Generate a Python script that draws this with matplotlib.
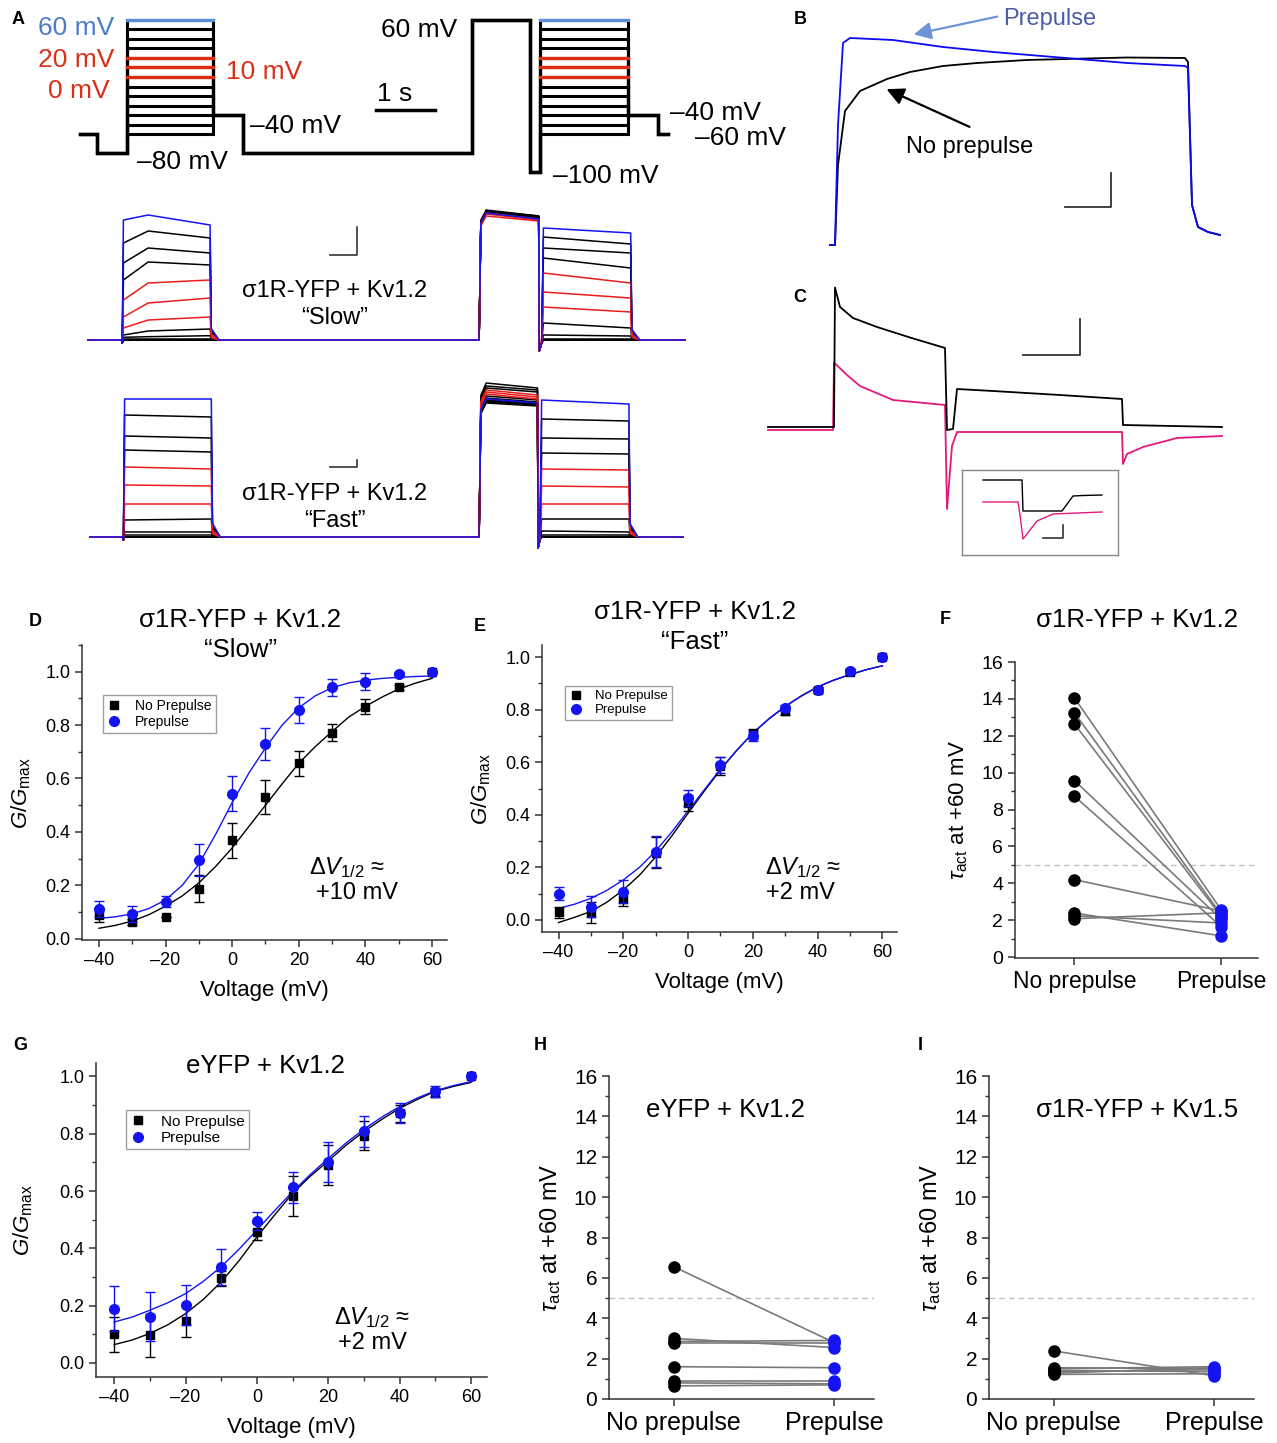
import matplotlib
matplotlib.use('Agg')
import matplotlib.pyplot as plt
from matplotlib.lines import Line2D
from matplotlib.ticker import MultipleLocator, FuncFormatter
import numpy as np

plt.rcParams['font.family'] = ['Liberation Sans', 'DejaVu Sans']
plt.rcParams['mathtext.fontset'] = 'custom'
plt.rcParams['mathtext.rm'] = 'Liberation Sans'
plt.rcParams['mathtext.it'] = 'Liberation Sans:italic'
plt.rcParams['mathtext.bf'] = 'Liberation Sans:bold'

# ---------------- data ----------------
# Panel A: voltage protocol (s, mV) and test steps
test_mV = [60, 50, 40, 30, 20, 10, 0, -10, -20, -30, -40, -50, -60]
proto_t = [0, 0.29, 0.80, 2.25, 2.76, 6.64, 7.63, 7.80, 9.29, 9.80, 9.97]

# Panel A currents (arbitrary units), one value per test step
slow1_fast = [12.0, 9.7, 7.7, 6.0, 4.0, 2.3, 1.2, 0.5, 0.27, 0.1, 0, 0, 0]
slow1_mid = [12.5, 10.9, 9.2, 7.8, 5.7, 3.7, 2.0, 0.9, 0.33, 0.1, 0, 0, 0]
slow1_end = [11.5, 10.2, 8.7, 7.5, 6.0, 4.2, 2.3, 1.1, 0.43, 0.1, 0, 0, 0]
slow_pp_start = [12.7, 12.9, 12.8, 12.8, 12.4, 12.6, 12.7, 13.0, 12.9, 12.8, 12.9, 12.8, 12.7]
slow_pp_end = [12.1, 12.4, 12.3, 12.2, 11.9, 12.0, 12.1, 12.4, 12.3, 12.2, 12.3, 12.2, 12.1]
slow2_start = [11.2, 10.3, 9.2, 8.2, 6.7, 4.8, 3.3, 1.7, 0.5, 0.1, 0, 0, 0]
slow2_end = [10.7, 9.6, 8.7, 7.2, 5.7, 4.2, 2.8, 1.2, 0.4, 0.1, 0, 0, 0]

fast1_start = [13.8, 12.2, 10.1, 8.7, 7.0, 5.2, 3.3, 1.7, 0.5, 0.2, 0, 0, 0]
fast1_end = [13.8, 12.0, 9.9, 8.5, 6.8, 5.1, 3.3, 1.8, 0.5, 0.2, 0, 0, 0]
fast_pp_start = [13.8, 15.4, 15.1, 14.9, 14.7, 14.5, 14.3, 14.1, 13.9, 13.7, 13.6, 13.5, 13.4]
fast_pp_end = [13.4, 14.9, 14.7, 14.5, 14.2, 14.0, 13.8, 13.7, 13.5, 13.4, 13.3, 13.2, 13.1]
fast2_start = [13.7, 11.8, 9.9, 8.4, 6.8, 5.1, 3.3, 1.8, 0.6, 0.2, 0, 0, 0]
fast2_end = [13.3, 11.6, 9.8, 8.3, 6.7, 5.0, 3.3, 1.8, 0.5, 0.2, 0, 0, 0]

# Panel B (ms, a.u.)
B_t_pre = [-5, 0, 3, 8, 15, 58, 108, 158, 225, 292, 350, 353, 357, 363, 373, 385]
B_pre = [0, 0, 12, 20.2, 20.7, 20.5, 19.8, 19.3, 18.75, 18.2, 17.9, 17.7, 4.0, 1.8, 1.3, 1.0]
B_t_no = [-5, 0, 3, 10, 25, 52, 75, 108, 142, 192, 292, 350, 353, 357, 363, 373, 385]
B_no = [0, 0, 8, 13.4, 15.4, 16.6, 17.3, 17.9, 18.2, 18.5, 18.75, 18.7, 18.3, 4.0, 1.8, 1.3, 1.0]

# Panel C (ms, a.u.)
C_t_k = [0, 66, 67, 72, 85, 109, 142, 177, 179, 185, 189, 225, 292, 354, 355, 454]
C_k = [0, 0, 13.95, 12.0, 10.9, 10.0, 8.95, 7.9, -0.3, -0.2, 3.8, 3.6, 3.2, 2.8, 0.2, 0]
C_t_m = [0, 65, 66, 79, 92, 125, 177, 179, 184, 189, 354, 355, 359, 375, 409, 454]
C_m = [-0.3, -0.3, 6.45, 5.2, 4.1, 2.7, 2.2, -8.2, -1.9, -0.5, -0.5, -3.7, -2.7, -2.0, -1.1, -0.9]
ins_t_k = [0, 39, 40, 79, 90, 100, 119]
ins_k = [0, 0, -3.1, -3.1, -1.6, -1.55, -1.5]
ins_t_m = [0, 35, 37, 40, 54, 70, 119]
ins_m = [-2.2, -2.2, -3.5, -5.9, -4.1, -3.4, -3.2]

# G-V panels
volt = [-40, -30, -20, -10, 0, 10, 20, 30, 40, 50, 60]
fitV = [-40, -35, -30, -25, -20, -15, -10, -5, 0, 5, 10, 15, 20, 25, 30, 35, 40, 45, 50, 55, 60]

D_no = [0.087, 0.062, 0.081, 0.187, 0.369, 0.531, 0.657, 0.772, 0.869, 0.941, 1.0]
D_no_err = [0.025, 0.012, 0.0, 0.05, 0.065, 0.065, 0.047, 0.033, 0.027, 0.008, 0.0]
D_pre = [0.11, 0.091, 0.138, 0.296, 0.543, 0.73, 0.857, 0.941, 0.963, 0.99, 1.0]
D_pre_err = [0.03, 0.03, 0.02, 0.06, 0.065, 0.06, 0.05, 0.032, 0.033, 0.01, 0.0]
D_fit_no = [0.039, 0.05, 0.066, 0.09, 0.122, 0.16, 0.209, 0.27, 0.34, 0.42, 0.50, 0.58, 0.657, 0.72,
            0.776, 0.83, 0.87, 0.905, 0.935, 0.957, 0.975]
D_fit_pre = [0.076, 0.082, 0.093, 0.113, 0.145, 0.20, 0.28, 0.39, 0.51, 0.62, 0.715, 0.80, 0.865, 0.91,
             0.94, 0.958, 0.968, 0.975, 0.979, 0.982, 0.984]

E_no = [0.029, 0.028, 0.079, 0.256, 0.444, 0.586, 0.708, 0.796, 0.876, 0.945, 1.0]
E_no_err = [0.02, 0.04, 0.025, 0.06, 0.03, 0.035, 0.02, 0.015, 0.01, 0.008, 0.0]
E_pre = [0.10, 0.05, 0.108, 0.26, 0.463, 0.59, 0.70, 0.806, 0.873, 0.948, 1.0]
E_pre_err = [0.025, 0.04, 0.045, 0.06, 0.03, 0.03, 0.02, 0.012, 0.008, 0.008, 0.0]
E_fit_no = [-0.01, 0.01, 0.032, 0.068, 0.114, 0.17, 0.24, 0.32, 0.406, 0.49, 0.571, 0.645, 0.711,
            0.765, 0.812, 0.852, 0.886, 0.912, 0.933, 0.952, 0.967]
E_fit_pre = [0.044, 0.06, 0.082, 0.113, 0.152, 0.20, 0.262, 0.335, 0.415, 0.495, 0.574, 0.645, 0.711,
             0.766, 0.813, 0.853, 0.887, 0.913, 0.934, 0.952, 0.967]

G_no = [0.10, 0.097, 0.146, 0.295, 0.458, 0.584, 0.691, 0.793, 0.872, 0.944, 1.0]
G_no_err = [0.062, 0.075, 0.055, 0.025, 0.03, 0.07, 0.07, 0.05, 0.03, 0.015, 0.0]
G_pre = [0.19, 0.161, 0.202, 0.336, 0.496, 0.613, 0.703, 0.808, 0.874, 0.948, 1.0]
G_pre_err = [0.078, 0.085, 0.07, 0.063, 0.032, 0.055, 0.07, 0.055, 0.035, 0.02, 0.0]
G_fit_no = [0.064, 0.08, 0.103, 0.133, 0.172, 0.222, 0.283, 0.357, 0.44, 0.517, 0.592, 0.652, 0.705,
            0.76, 0.808, 0.85, 0.889, 0.92, 0.948, 0.965, 0.979]
G_fit_pre = [0.143, 0.16, 0.184, 0.21, 0.242, 0.285, 0.336, 0.397, 0.464, 0.532, 0.598, 0.658, 0.714,
             0.768, 0.816, 0.858, 0.895, 0.925, 0.95, 0.968, 0.982]

# tau_act paired panels
groups = ['No prepulse', 'Prepulse']
F_no = [14.05, 13.24, 12.64, 9.57, 8.72, 4.2, 2.39, 2.24, 2.08]
F_pre = [2.55, 2.3, 2.2, 2.05, 1.65, 2.5, 1.15, 1.85, 2.4]
H_no = [6.55, 3.0, 2.85, 2.75, 1.6, 0.9, 0.8, 0.65]
H_pre = [2.8, 2.55, 2.9, 2.75, 1.55, 0.9, 0.75, 0.7]
I_no = [2.38, 1.55, 1.5, 1.42, 1.35, 1.28, 1.22]
I_pre = [1.15, 1.5, 1.6, 1.35, 1.45, 1.55, 1.25]

# ---------------- figure ----------------
W, H = 1277, 1443
fig = plt.figure(figsize=(W / 100, H / 100), dpi=100)

BLUE = '#1414f2'
RED = '#ea1c1c'
PINK = '#e2197b'


def px_axes(l, t, r, b):
    return fig.add_axes([l / W, 1 - b / H, (r - l) / W, (b - t) / H])


def ftext(x, y, s, **kw):
    kw.setdefault('ha', 'center')
    kw.setdefault('va', 'center')
    return fig.text(x / W, 1 - y / H, s, **kw)


def fpos(x, y):
    return (x / W, 1 - y / H)


def step_color(v):
    if v == 60:
        return BLUE
    if v in (20, 10, 0):
        return RED
    return 'k'


# ---- Panel A protocol ----
axp = px_axes(75, 8, 690, 190)
axp.set_xlim(-0.085, 10.34)
axp.set_ylim(-118.9, 72.6)
axp.axis('off')
for v in test_mV:
    lv = [-60, -80, v, -40, -80, 60, -100, v, -40, -60]
    xs, ys = [], []
    for i, lvl in enumerate(lv):
        xs += [proto_t[i], proto_t[i + 1]]
        ys += [lvl, lvl]
    axp.plot(xs, ys, color='k', lw=2.2, solid_joinstyle='miter')
for v in test_mV:
    if v == 60:
        c = '#5b8ed6'
    elif v in (20, 10, 0):
        c = '#dd2c12'
    else:
        continue
    axp.plot([proto_t[2], proto_t[3]], [v, v], color=c, lw=2.4)
    axp.plot([proto_t[7], proto_t[8]], [v, v], color=c, lw=2.4)
axp.plot([5.02, 6.02], [-34.7, -34.7], color='k', lw=2.5)

pfs = 19
ftext(38, 28, '60 mV', color='#4b7cc8', fontsize=pfs, ha='left')
ftext(38, 60, '20 mV', color='#d9301a', fontsize=pfs, ha='left')
ftext(48, 91, '0 mV', color='#d9301a', fontsize=pfs, ha='left')
ftext(226, 72, '10 mV', color='#d9301a', fontsize=pfs, ha='left')
ftext(250, 126, '–40 mV', fontsize=pfs, ha='left')
ftext(137, 162, '–80 mV', fontsize=pfs, ha='left')
ftext(395, 94, '1 s', fontsize=pfs)
ftext(381, 30, '60 mV', fontsize=pfs, ha='left')
ftext(553, 176, '–100 mV', fontsize=pfs, ha='left')
ftext(670, 113, '–40 mV', fontsize=pfs, ha='left')
ftext(695, 138, '–60 mV', fontsize=pfs, ha='left')


def build_trace(tt, a_fast, a_mid, a_end, pp_s, pp_e, b_s, b_e, slow=True):
    t0, t_on, t_off, pp_on, pp_off, t2_on, t2_off, t_end = tt
    pts = [(t0, 0), (t_on, 0), (t_on + 0.01, -0.3), (t_on + 0.03, a_fast)]
    if slow:
        pts.append((t_on + 0.45, a_mid))
    pts += [(t_off, a_end), (t_off + 0.02, 0.1 * a_end), (t_off + 0.15, 0),
            (pp_on, 0), (pp_on + 0.03, pp_s * 0.92), (pp_on + 0.12, pp_s), (pp_off, pp_e),
            (pp_off + 0.01, -1.1), (t2_on, -0.3), (t2_on + 0.03, b_s), (t2_off, b_e),
            (t2_off + 0.02, 0.1 * b_e), (t2_off + 0.15, 0), (t_end, 0)]
    return [p[0] for p in pts], [p[1] for p in pts]


def draw_traces(ax, tt, f1, m1, e1, ps, pe, s2, e2, slow):
    order = sorted(range(len(test_mV)), key=lambda i: {'k': 0, RED: 1, BLUE: 2}[step_color(test_mV[i])])
    for i in order:
        x, y = build_trace(tt, f1[i], m1[i], e1[i], ps[i], pe[i], s2[i], e2[i], slow)
        ax.plot(x, y, color=step_color(test_mV[i]), lw=1.1)


axs = px_axes(85, 198, 695, 356)
axs.set_xlim(-0.051, 10.29)
axs.set_ylim(-1.6, 14.2)
axs.axis('off')
draw_traces(axs, (0, 0.57, 2.07, 6.63, 7.64, 7.69, 9.20, 10.12),
            slow1_fast, slow1_mid, slow1_end, slow_pp_start, slow_pp_end, slow2_start, slow2_end, True)
axs.plot([4.10, 4.56, 4.56], [8.5, 8.5, 11.3], color='#333', lw=1.2)

axf = px_axes(85, 372, 695, 552)
axf.set_xlim(-0.051, 10.29)
axf.set_ylim(-1.5, 16.5)
axf.axis('off')
draw_traces(axf, (0.03, 0.59, 2.09, 6.63, 7.62, 7.66, 9.17, 10.08),
            fast1_start, fast1_end, fast1_end, fast_pp_start, fast_pp_end, fast2_start, fast2_end, False)
axf.plot([4.10, 4.56, 4.56], [7.0, 7.0, 7.7], color='#333', lw=1.2)

ftext(335, 291, 'σ1R-YFP + Kv1.2', fontsize=17)
ftext(335, 318, '“Slow”', fontsize=17)
ftext(335, 494, 'σ1R-YFP + Kv1.2', fontsize=17)
ftext(335, 521, '“Fast”', fontsize=17)

# ---- Panel B ----
axb = px_axes(825, 10, 1230, 260)
axb.set_xlim(-10, 395)
axb.set_ylim(-1.5, 23.5)
axb.axis('off')
axb.plot(B_t_no, B_no, color='k', lw=1.3)
axb.plot(B_t_pre, B_pre, color='#0a0af5', lw=1.3)
axb.plot([230, 276, 276], [3.85, 3.85, 7.2], color='#333', lw=1.3)
ftext(1050, 19, 'Prepulse', fontsize=17, color='#4a5da8')
ftext(970, 147, 'No prepulse', fontsize=17)
axb.annotate('', xy=fpos(911, 35), xytext=fpos(1000, 16), xycoords='figure fraction',
             textcoords='figure fraction',
             arrowprops=dict(arrowstyle='-|>', color='#6d93d8', lw=1.6, mutation_scale=26))
axb.annotate('', xy=fpos(884, 88), xytext=fpos(972, 128), xycoords='figure fraction',
             textcoords='figure fraction',
             arrowprops=dict(arrowstyle='-|>', color='k', lw=1.6, mutation_scale=26))

# ---- Panel C ----
axc = px_axes(760, 270, 1230, 525)
axc.set_xlim(-8, 462)
axc.set_ylim(-9.8, 15.7)
axc.axis('off')
axc.plot(C_t_m, C_m, color=PINK, lw=1.3)
axc.plot(C_t_k, C_k, color='k', lw=1.3)
axc.plot([255, 312, 312], [7.2, 7.2, 10.8], color='#333', lw=1.3)

axi = px_axes(962, 470, 1118, 555)
axi.set_xlim(-21, 135)
axi.set_ylim(-7.5, 1.0)
axi.set_xticks([])
axi.set_yticks([])
for s in axi.spines.values():
    s.set_color('#888')
    s.set_linewidth(1)
axi.plot(ins_t_k, ins_k, color='k', lw=1)
axi.plot(ins_t_m, ins_m, color=PINK, lw=1)
axi.plot([60, 80, 80], [-5.75, -5.75, -4.5], color='#333', lw=1.2)


# ---- common styling ----
def dash_fmt(fmt):
    return FuncFormatter(lambda v, p: (fmt % v).replace('-', '–'))


def style(ax, lsize):
    for s in ['top', 'right']:
        ax.spines[s].set_visible(False)
    for s in ['left', 'bottom']:
        ax.spines[s].set_linewidth(1.1)
        ax.spines[s].set_color('#333')
    ax.tick_params(which='major', direction='out', length=5, width=1.1, color='#333', labelsize=lsize)
    ax.tick_params(which='minor', direction='out', length=3, width=1.0, color='#333')


def gv_panel(box, ylim, no, no_err, pre, pre_err, fit_no, fit_pre, leg_xy, leg_fs, ypad):
    ax = px_axes(*box)
    ax.plot(fitV, fit_no, color='k', lw=1.0, zorder=2)
    ax.plot(fitV, fit_pre, color=BLUE, lw=1.0, zorder=2)
    ax.errorbar(volt, no, yerr=no_err, fmt='s', color='k', ms=6, capsize=3.5,
                elinewidth=1, capthick=1, zorder=3)
    ax.errorbar(volt, pre, yerr=pre_err, fmt='o', color=BLUE, ms=7, capsize=3.5,
                elinewidth=1, capthick=1, zorder=4)
    ax.set_xlim(-45.1, 64.5)
    ax.set_ylim(*ylim)
    style(ax, 13)
    ax.xaxis.set_major_locator(MultipleLocator(20))
    ax.xaxis.set_minor_locator(MultipleLocator(10))
    ax.yaxis.set_major_locator(MultipleLocator(0.2))
    ax.yaxis.set_minor_locator(MultipleLocator(0.1))
    ax.xaxis.set_major_formatter(dash_fmt('%d'))
    ax.yaxis.set_major_formatter(dash_fmt('%.1f'))
    ax.set_xlabel('Voltage (mV)', fontsize=16, labelpad=8)
    ax.set_ylabel(r'$G/G_{\rm max}$', fontsize=16, labelpad=ypad)
    h = [Line2D([], [], ls='none', marker='s', color='k', ms=6),
         Line2D([], [], ls='none', marker='o', color=BLUE, ms=7)]
    leg = ax.legend(h, ['No Prepulse', 'Prepulse'], loc='upper left',
                    bbox_to_anchor=fpos(*leg_xy), bbox_transform=fig.transFigure,
                    frameon=True, fancybox=False, edgecolor='#888', fontsize=leg_fs,
                    borderpad=0.3, handlelength=1.0, handletextpad=1.0, labelspacing=0.15,
                    borderaxespad=0)
    leg.get_frame().set_linewidth(1.0)
    return ax


gv_panel((82, 645, 447, 940), (-0.005, 1.10), D_no, D_no_err, D_pre, D_pre_err,
         D_fit_no, D_fit_pre, (103, 695), 10, 9)
gv_panel((542, 645, 897, 932), (-0.046, 1.046), E_no, E_no_err, E_pre, E_pre_err,
         E_fit_no, E_fit_pre, (565, 686), 9.5, 9)
gv_panel((96, 1063, 487, 1377), (-0.049, 1.047), G_no, G_no_err, G_pre, G_pre_err,
         G_fit_no, G_fit_pre, (126, 1110), 11, 17)

ftext(240, 620, 'σ1R-YFP + Kv1.2', fontsize=18.5)
ftext(241, 650, '“Slow”', fontsize=18.5)
ftext(347, 868, r'$\Delta V_{1/2}$ ≈', fontsize=17)
ftext(357, 893, '+10 mV', fontsize=17)

ftext(695, 612, 'σ1R-YFP + Kv1.2', fontsize=18.5)
ftext(695, 642, '“Fast”', fontsize=18.5)
ftext(803, 868, r'$\Delta V_{1/2}$ ≈', fontsize=17)
ftext(800, 893, '+2 mV', fontsize=17)

ftext(265, 1066, 'eYFP + Kv1.2', fontsize=18.5)
ftext(372, 1318, r'$\Delta V_{1/2}$ ≈', fontsize=17)
ftext(372, 1343, '+2 mV', fontsize=17)


def paired(box, no, pre, ylim, lsize, xsize, ysize):
    ax = px_axes(*box)
    for a, b in zip(no, pre):
        ax.plot([0, 1], [a, b], color='#7a7a7a', lw=1.2, zorder=2)
    ax.plot([0] * len(no), no, 'o', color='k', ms=8, zorder=3)
    ax.plot([1] * len(pre), pre, 'o', color=BLUE, ms=8, zorder=3)
    ax.axhline(5, color='#c0c0c0', ls=(0, (4, 3)), lw=1, zorder=1)
    ax.set_xlim(-0.405, 1.25)
    ax.set_ylim(*ylim)
    style(ax, lsize)
    ax.yaxis.set_major_locator(MultipleLocator(2))
    ax.yaxis.set_minor_locator(MultipleLocator(1))
    ax.set_xticks([0, 1])
    ax.set_xticklabels(groups, fontsize=xsize)
    ax.set_ylabel(r'$\tau_{\rm act}$ at +60 mV', fontsize=ysize, labelpad=8)
    return ax


paired((1015, 662, 1258, 958), F_no, F_pre, (-0.05, 16), 14, 16.5, 16)
paired((609, 1076, 874, 1399), H_no, H_pre, (0, 16), 15, 18, 17)
paired((989, 1076, 1254, 1399), I_no, I_pre, (0, 16), 15, 18, 17)
ftext(1137, 620, 'σ1R-YFP + Kv1.2', fontsize=18.5)
ftext(725, 1110, 'eYFP + Kv1.2', fontsize=18.5)
ftext(1137, 1110, 'σ1R-YFP + Kv1.5', fontsize=18.5)

# panel letters
for lab, x, y in [('A', 18, 20), ('B', 800, 20), ('C', 800, 298), ('D', 35, 622), ('E', 480, 626),
                  ('F', 945, 620), ('G', 20, 1046), ('H', 540, 1046), ('I', 920, 1046)]:
    ftext(x, y, lab, fontsize=13, fontweight='bold')

fig.savefig('out.png', dpi=100)
